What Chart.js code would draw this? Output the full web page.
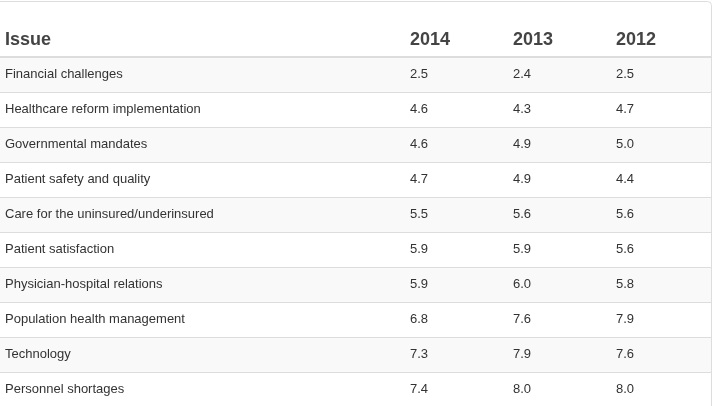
<!DOCTYPE html>
<html>
<head>
<meta charset="utf-8">
<script src="https://cdn.jsdelivr.net/npm/chart.js@4"></script>
<style>
    html, body { margin: 0; padding: 0; background: #fff; overflow: hidden; }
    #wrap { width: 715px; height: 406px; overflow: hidden; }
</style>
</head>
<body>
<div id="wrap"><canvas id="issuesTable" width="715" height="407"></canvas></div>
<script>
// Table data
const headerLabel = 'Issue';
const years = ['2014', '2013', '2012'];
const issues = [
    'Financial challenges',
    'Healthcare reform implementation',
    'Governmental mandates',
    'Patient safety and quality',
    'Care for the uninsured/underinsured',
    'Patient satisfaction',
    'Physician-hospital relations',
    'Population health management',
    'Technology',
    'Personnel shortages'
];
const values2014 = [2.5, 4.6, 4.6, 4.7, 5.5, 5.9, 5.9, 6.8, 7.3, 7.4];
const values2013 = [2.4, 4.3, 4.9, 4.9, 5.6, 5.9, 6.0, 7.6, 7.9, 8.0];
const values2012 = [2.5, 4.7, 5.0, 4.4, 5.6, 5.6, 5.8, 7.9, 7.6, 8.0];

const yearValues = [values2014, values2013, values2012];

const fontFamily = '"Helvetica Neue", "Liberation Sans", Arial, sans-serif';
const borderColor = '#dddddd';
const stripeColor = '#f9f9f9';
const panelRight = 711;

// Draws the striped rows, borders and all cell text from the scales
const tablePlugin = {
    id: 'tablePlugin',
    beforeDatasetsDraw(chart) {
        const ctx = chart.ctx;
        const yScale = chart.scales.y;
        const top = chart.chartArea.top;
        const rowH = yScale.getPixelForValue(issues[1]) - yScale.getPixelForValue(issues[0]);
        ctx.save();
        // striped rows
        issues.forEach((issue, i) => {
            const yc = yScale.getPixelForValue(issue);
            if (i % 2 === 0) {
                ctx.fillStyle = stripeColor;
                ctx.fillRect(0, yc - rowH / 2 + 1, panelRight, rowH - 1);
            }
            // row separator above each row after the first
            if (i > 0) {
                ctx.fillStyle = borderColor;
                ctx.fillRect(0, Math.round(yc - rowH / 2), panelRight, 1);
            }
        });
        // header bottom border
        ctx.fillStyle = borderColor;
        ctx.fillRect(0, top - 1, panelRight, 2);
        // panel outline (top + right, rounded corner)
        ctx.strokeStyle = borderColor;
        ctx.lineWidth = 1;
        ctx.beginPath();
        ctx.moveTo(-10, 1.5);
        ctx.lineTo(panelRight - 4, 1.5);
        ctx.arcTo(panelRight + 0.5, 1.5, panelRight + 0.5, 6, 4);
        ctx.lineTo(panelRight + 0.5, chart.height + 5);
        ctx.stroke();
        ctx.restore();
    },
    afterDatasetsDraw(chart) {
        const ctx = chart.ctx;
        const xScale = chart.scales.x;
        const yScale = chart.scales.y;
        ctx.save();
        // header
        ctx.fillStyle = '#444';
        ctx.font = 'bold 18px ' + fontFamily;
        ctx.textAlign = 'left';
        ctx.textBaseline = 'alphabetic';
        ctx.fillText(headerLabel, 5, 45);
        years.forEach(y => {
            ctx.fillText(y, xScale.getPixelForValue(y), 45);
        });
        // issue names
        ctx.fillStyle = '#333';
        ctx.font = '13px ' + fontFamily;
        ctx.textBaseline = 'middle';
        issues.forEach(issue => {
            ctx.fillText(issue, 5, yScale.getPixelForValue(issue));
        });
        // value cells from dataset elements
        chart.data.datasets.forEach((ds, di) => {
            const meta = chart.getDatasetMeta(di);
            meta.data.forEach((pt, i) => {
                ctx.fillText(ds.data[i].v.toFixed(1), pt.x, pt.y);
            });
        });
        ctx.restore();
    }
};

const tableCtx = document.getElementById('issuesTable').getContext('2d');
const issuesTable = new Chart(tableCtx, {
    type: 'line',
    data: {
        datasets: years.map((year, yi) => ({
            label: year,
            data: issues.map((issue, i) => ({ x: year, y: issue, v: yearValues[yi][i] })),
            showLine: false,
            pointRadius: 0,
            pointHoverRadius: 0
        }))
    },
    options: {
        responsive: false,
        animation: false,
        events: [],
        layout: {
            padding: { top: 57, bottom: 0, left: 410, right: 99 }
        },
        scales: {
            x: {
                type: 'category',
                labels: years,
                offset: false,
                display: false
            },
            y: {
                type: 'category',
                labels: issues,
                offset: true,
                display: false
            }
        },
        plugins: {
            legend: { display: false },
            tooltip: { enabled: false }
        }
    },
    plugins: [tablePlugin]
});
</script>
</body>
</html>
